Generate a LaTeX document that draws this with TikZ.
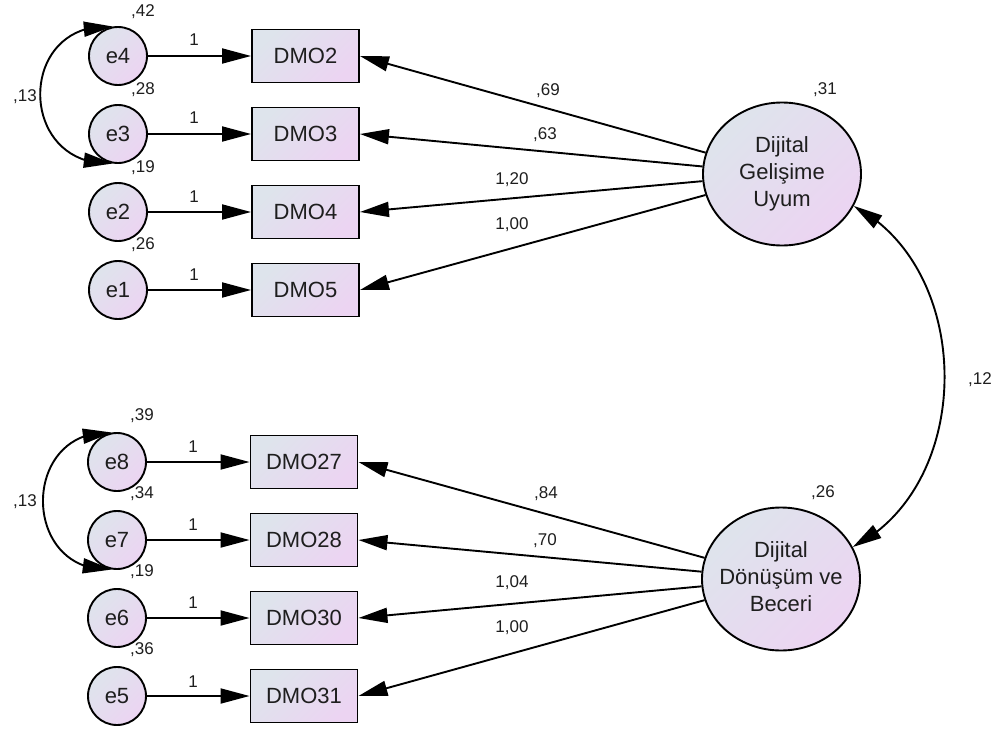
\documentclass[tikz,border=0pt]{standalone}
\usepackage{fontspec}
\setmainfont{Liberation Sans}
\usetikzlibrary{arrows.meta,shapes.geometric,bending}
\definecolor{shA}{RGB}{222,228,236}
\definecolor{shB}{RGB}{236,212,242}
\definecolor{txt}{RGB}{30,30,30}
\newcommand{\latxt}[1]{\makebox[0pt][c]{\begin{tabular}{@{}c@{}}#1\end{tabular}}}
\tikzset{
  shd/.style={draw=black,line width=1.9pt,top color=shA,bottom color=shB,shading angle=45,text=txt,font=\fontsize{22}{27}\selectfont,inner sep=0pt},
  errc/.style={shd,circle,minimum size=58pt},
  obsbox/.style={shd,rectangle,minimum width=107pt,minimum height=53pt},
  latent/.style={shd,ellipse,minimum width=158pt,minimum height=143pt},
  arr/.style={line width=1.9pt,-{Triangle[length=29pt,width=15pt]}},
  darr/.style={line width=1.9pt,{Triangle[length=29pt,width=15pt]}-{Triangle[length=29pt,width=15pt]}},
  lbl/.style={text=txt,font=\fontsize{17}{20}\selectfont,inner sep=0pt}
}
\begin{document}
\begin{tikzpicture}[x=1pt,y=-1pt]
\useasboundingbox (0,0) rectangle (997,731);
% error terms
\node[errc] (e4) at (118,56) {e4};
\node[errc] (e3) at (118,134) {e3};
\node[errc] (e2) at (118,212) {e2};
\node[errc] (e1) at (118,290) {e1};
\node[errc] (e8) at (117,462) {e8};
\node[errc] (e7) at (117,540) {e7};
\node[errc] (e6) at (117,618) {e6};
\node[errc] (e5) at (117,696) {e5};
% observed
\node[obsbox] (DMO2) at (305.5,56) {DMO2};
\node[obsbox] (DMO3) at (305.5,134) {DMO3};
\node[obsbox] (DMO4) at (305.5,212) {DMO4};
\node[obsbox] (DMO5) at (305.5,290) {DMO5};
\node[obsbox] (DMO27) at (304,462) {DMO27};
\node[obsbox] (DMO28) at (304,540) {DMO28};
\node[obsbox] (DMO30) at (304,618) {DMO30};
\node[obsbox] (DMO31) at (304,696) {DMO31};
% latents
\node[latent] (L1) at (782,174) {\latxt{Dijital\\Gelişime\\Uyum}};
\node[latent] (L2) at (781,579) {\latxt{Dijital\\Dönüşüm ve\\Beceri}};
% error paths
\draw[arr] (e4) -- (DMO2);
\draw[arr] (e3) -- (DMO3);
\draw[arr] (e2) -- (DMO4);
\draw[arr] (e1) -- (DMO5);
\draw[arr] (e8) -- (DMO27);
\draw[arr] (e7) -- (DMO28);
\draw[arr] (e6) -- (DMO30);
\draw[arr] (e5) -- (DMO31);
% loadings
\draw[arr] (L1) -- (DMO2.east);
\draw[arr] (L1) -- (DMO3.east);
\draw[arr] (L1) -- (DMO4.east);
\draw[arr] (L1) -- (DMO5.east);
\draw[arr] (L2) -- (DMO27.east);
\draw[arr] (L2) -- (DMO28.east);
\draw[arr] (L2) -- (DMO30.east);
\draw[arr] (L2) -- (DMO31.east);
% covariances
\draw[darr] (e4.100) .. controls (16,20) and (16,168) .. (e3.260);
\draw[darr] (e8.100) .. controls (20,428) and (20,574) .. (e7.260);
\draw[darr] (L1.-24) .. controls (975,270) and (975,485) .. (L2.24);
% labels
\node[lbl] (v42) at (143,12) {,42};
\node[lbl] (v28) at (143,90) {,28};
\node[lbl] (v19a) at (143,168) {,19};
\node[lbl] (v26a) at (143,245) {,26};
\node[lbl] (v39) at (142,416) {,39};
\node[lbl] (v34) at (142,494) {,34};
\node[lbl] (v19b) at (142,572) {,19};
\node[lbl] (v36) at (142,650) {,36};
\node[lbl] (c13a) at (25,97) {,13};
\node[lbl] (c13b) at (25,502) {,13};
\node[lbl] (o1a) at (194,40) {1};
\node[lbl] (o1b) at (194,118) {1};
\node[lbl] (o1c) at (194,197) {1};
\node[lbl] (o1d) at (194,275) {1};
\node[lbl] (o1e) at (193,447) {1};
\node[lbl] (o1f) at (193,525) {1};
\node[lbl] (o1g) at (193,603) {1};
\node[lbl] (o1h) at (193,682) {1};
\node[lbl] (w69) at (548,91) {,69};
\node[lbl] (w63) at (545,135) {,63};
\node[lbl] (w120) at (512,180) {1,20};
\node[lbl] (w100a) at (512,225) {1,00};
\node[lbl] (w84) at (546,494) {,84};
\node[lbl] (w70) at (545,541) {,70};
\node[lbl] (w104) at (512,583) {1,04};
\node[lbl] (w100b) at (512,628) {1,00};
\node[lbl] (v31) at (825,90) {,31};
\node[lbl] (v26b) at (823,493) {,26};
\node[lbl] (c12) at (980,380) {,12};
\end{tikzpicture}
\end{document}
